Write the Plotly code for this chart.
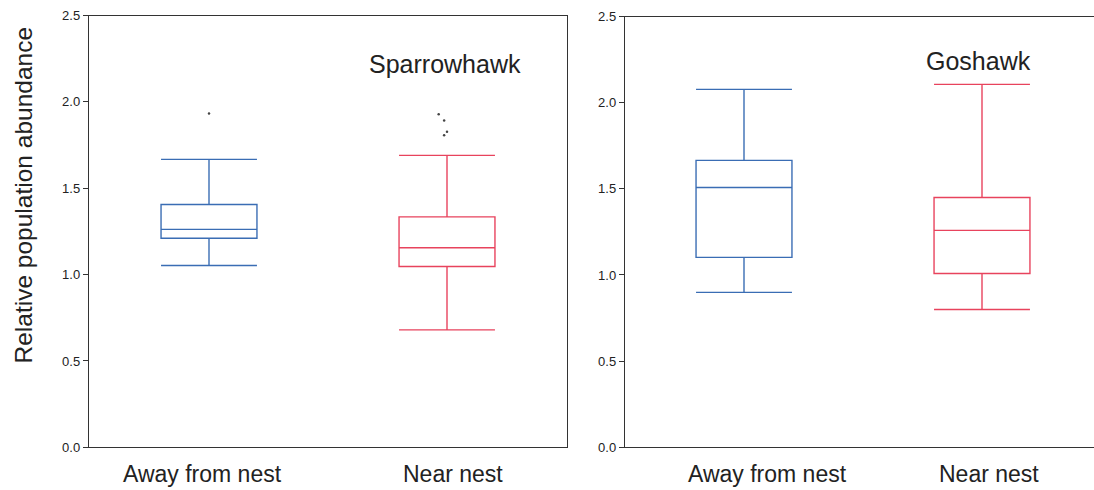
import plotly.graph_objects as go

# Box statistics (relative population abundance)
groups = ["Away from nest", "Near nest"]
panel_titles = ["Sparrowhawk", "Goshawk"]

sparrow_q1 = [1.21, 1.047]
sparrow_median = [1.262, 1.155]
sparrow_q3 = [1.406, 1.334]
sparrow_low = [1.053, 0.680]
sparrow_high = [1.667, 1.690]
sparrow_out_away = [1.933]
sparrow_out_near = [1.929, 1.892, 1.827, 1.807]
sparrow_out_near_x = [-0.035, -0.012, 0.0, -0.012]

goshawk_q1 = [1.102, 1.009]
goshawk_median = [1.508, 1.259]
goshawk_q3 = [1.665, 1.450]
goshawk_low = [0.899, 0.800]
goshawk_high = [2.077, 2.106]

y_ticks = [0.0, 0.5, 1.0, 1.5, 2.0, 2.5]
colors = ["#3a6db4", "#e8435d"]

W, H = 1094, 490
FONT = "Liberation Sans, Arial, Helvetica, sans-serif"
AXIS_COLOR = "#333333"

fig = go.Figure()

def add_panel(xa, ya, q1, med, q3, lo, hi):
    for i in range(2):
        fig.add_trace(go.Box(
            x=[i], q1=[q1[i]], median=[med[i]], q3=[q3[i]],
            lowerfence=[lo[i]], upperfence=[hi[i]],
            width=0.403, whiskerwidth=1,
            line=dict(color=colors[i], width=1.4),
            fillcolor="rgba(0,0,0,0)",
            boxpoints=False, showlegend=False, hoverinfo="skip",
            xaxis=xa, yaxis=ya,
        ))

add_panel("x", "y", sparrow_q1, sparrow_median, sparrow_q3, sparrow_low, sparrow_high)
add_panel("x2", "y2", goshawk_q1, goshawk_median, goshawk_q3, goshawk_low, goshawk_high)

# outlying points
fig.add_trace(go.Scatter(
    x=[0.0] * len(sparrow_out_away) + [1 + d for d in sparrow_out_near_x],
    y=sparrow_out_away + sparrow_out_near,
    mode="markers", marker=dict(size=2.5, color="#444444"),
    showlegend=False, hoverinfo="skip", xaxis="x", yaxis="y",
))

def px_x(p):
    return p / W

def px_y(p):
    return (H - p) / H

yaxis_common = dict(
    range=[0, 2.5], tickvals=y_ticks, ticktext=[f"{v:.1f}" for v in y_ticks],
    ticks="outside", ticklen=5, tickwidth=1.2, tickcolor=AXIS_COLOR,
    showline=True, linecolor=AXIS_COLOR, linewidth=1.4,
    showgrid=False, zeroline=False,
    tickfont=dict(family=FONT, size=13, color="#222222"),
)
xaxis_common = dict(
    showline=True, linecolor=AXIS_COLOR, linewidth=1.4,
    showgrid=False, zeroline=False, showticklabels=False, ticks="",
)

fig.update_layout(
    width=W, height=H,
    margin=dict(l=0, r=0, t=0, b=0),
    paper_bgcolor="white", plot_bgcolor="white",
    xaxis=dict(xaxis_common, domain=[px_x(89), px_x(567)], range=[-0.5042, 1.5042],
               mirror=True, anchor="y"),
    yaxis=dict(yaxis_common, domain=[px_y(454.2), px_y(8.8)], mirror=True, anchor="x"),
    xaxis2=dict(xaxis_common, domain=[px_x(625), 1.0], range=[-0.5, 1.4706],
                mirror=True, anchor="y2"),
    yaxis2=dict(yaxis_common, domain=[px_y(454.2), px_y(9.8)], anchor="x2"),
)

annotations = []
# group labels under each panel
for xa, positions in (("x", [-0.027, 1.024]), ("x2", [0.10, 1.03])):
    for pos, label in zip(positions, groups):
        annotations.append(dict(
            x=pos, xref=xa, y=px_y(482), yref="paper", text=label,
            showarrow=False, xanchor="center", yanchor="middle",
            font=dict(family=FONT, size=23, color="#222222"),
        ))
# panel titles
annotations.append(dict(x=0.992, xref="x", y=2.222, yref="y", text=panel_titles[0],
                        showarrow=False, xanchor="center", yanchor="middle",
                        font=dict(family=FONT, size=25, color="#222222")))
annotations.append(dict(x=0.987, xref="x2", y=2.239, yref="y2", text=panel_titles[1],
                        showarrow=False, xanchor="center", yanchor="middle",
                        font=dict(family=FONT, size=25, color="#222222")))
# shared y-axis title
annotations.append(dict(x=px_x(23), xref="paper", y=px_y(194.4), yref="paper",
                        text="Relative population abundance", textangle=-90,
                        showarrow=False, xanchor="center", yanchor="middle",
                        font=dict(family=FONT, size=24.5, color="#222222")))
fig.update_layout(annotations=annotations)

fig.write_html("out.html")
